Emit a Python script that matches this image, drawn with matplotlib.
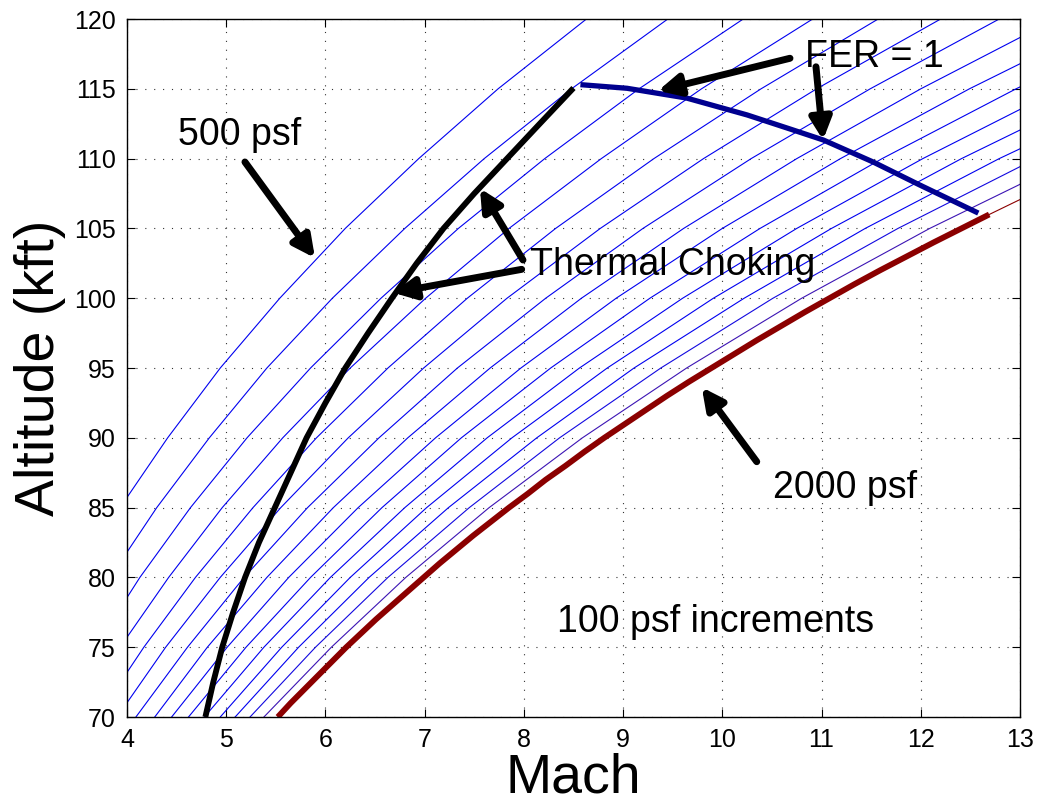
import matplotlib
matplotlib.use("Agg")
import matplotlib.pyplot as plt

plt.rcParams['font.family'] = ['Liberation Sans', 'DejaVu Sans']

# altitude samples (kft) for the constant dynamic pressure lines
alt_kft = [70, 75, 80, 85, 90, 95, 100, 105, 110, 115, 120]

# Mach number at each altitude, one row per dynamic pressure (psf)
q_psf = [500, 600, 700, 800, 900, 1000, 1100, 1200,
         1300, 1400, 1500, 1600, 1700, 1800, 1900]
mach_q = [
    [2.76, 3.11, 3.49, 3.93, 4.41, 4.94, 5.54, 6.20, 6.94, 7.74, 8.63],
    [3.02, 3.40, 3.83, 4.30, 4.83, 5.41, 6.07, 6.80, 7.60, 8.48, 9.45],
    [3.27, 3.68, 4.13, 4.64, 5.21, 5.85, 6.56, 7.34, 8.21, 9.16, 10.21],
    [3.50, 3.93, 4.42, 4.96, 5.57, 6.25, 7.01, 7.85, 8.78, 9.79, 10.91],
    [3.70, 4.17, 4.69, 5.27, 5.91, 6.63, 7.43, 8.32, 9.31, 10.39, 11.57],
    [3.90, 4.39, 4.94, 5.55, 6.23, 6.99, 7.83, 8.77, 9.81, 10.95, 12.20],
    [4.09, 4.61, 5.18, 5.82, 6.54, 7.33, 8.22, 9.20, 10.29, 11.49, 12.79],
    [4.28, 4.81, 5.41, 6.08, 6.83, 7.66, 8.58, 9.61, 10.75, 12.00, 13.36],
    [4.45, 5.01, 5.63, 6.33, 7.11, 7.97, 8.93, 10.00, 11.19, 12.49, 13.91],
    [4.62, 5.20, 5.85, 6.57, 7.37, 8.27, 9.27, 10.38, 11.61, 12.96, 14.43],
    [4.78, 5.38, 6.05, 6.80, 7.63, 8.56, 9.60, 10.75, 12.02, 13.41, 14.94],
    [4.94, 5.56, 6.25, 7.02, 7.88, 8.84, 9.91, 11.10, 12.41, 13.85, 15.43],
    [5.09, 5.73, 6.44, 7.24, 8.13, 9.11, 10.22, 11.44, 12.79, 14.28, 15.90],
    [5.24, 5.90, 6.63, 7.45, 8.36, 9.38, 10.51, 11.77, 13.16, 14.69, 16.37],
    [5.38, 6.06, 6.81, 7.65, 8.59, 9.64, 10.80, 12.09, 13.53, 15.10, 16.81],
]
q_colors = ['#0000f0'] * 13 + ['#1208e0', '#3c14b4']

# 2000 psf line, finer altitude steps (kft)
alt_2000 = [70, 71, 72, 73, 74, 75, 76, 77, 78, 79, 80, 81, 82, 83, 84,
            85, 86, 87, 88, 89, 90, 91, 92, 93, 94, 95, 96, 97, 98, 99,
            100, 101, 102, 103, 104, 105, 106, 107, 110]
mach_2000 = [5.52, 5.65, 5.79, 5.93, 6.07, 6.21, 6.36, 6.51, 6.67, 6.83,
             6.99, 7.15, 7.32, 7.49, 7.67, 7.85, 8.04, 8.22, 8.42, 8.61,
             8.81, 9.02, 9.23, 9.44, 9.66, 9.89, 10.12, 10.35, 10.59, 10.83,
             11.08, 11.33, 11.59, 11.86, 12.13, 12.41, 12.69, 12.98, 13.88]
n_2000_limit = 37  # thick part stops where it meets FER = 1 (106 kft)

# thermal choking boundary
alt_choke = [70, 72.5, 75, 77.5, 80, 82.5, 85, 87.5, 90, 92.5,
             95, 97.5, 100, 102.5, 105, 107.5, 110, 112.5, 115.06]
mach_choke = [4.79, 4.87, 4.96, 5.07, 5.19, 5.33, 5.49, 5.65, 5.81, 6.00,
              6.20, 6.43, 6.67, 6.92, 7.19, 7.50, 7.83, 8.16, 8.50]

# FER = 1 line
mach_fer = [8.57, 9.04, 9.64, 10.25, 10.71, 11.02, 11.52, 11.99, 12.58]
alt_fer = [115.3, 115.04, 114.34, 113.13, 112.06, 111.33, 109.76, 108.11, 106.1]

fig = plt.figure(figsize=(10.39, 8.07), dpi=100)
ax = fig.add_axes([0.1222, 0.1115, 0.8595, 0.8649])

for m, c in zip(mach_q, q_colors):
    ax.plot(m, alt_kft, color=c, lw=0.8)
ax.plot(mach_2000, alt_2000, color='#8b0000', lw=0.8)

ax.plot(mach_2000[:n_2000_limit], alt_2000[:n_2000_limit], color='#8b0000',
        lw=4.2, solid_capstyle='butt')
ax.plot(mach_choke, alt_choke, color='k', lw=4.2, solid_capstyle='butt',
        solid_joinstyle='round')
ax.plot(mach_fer, alt_fer, color='#00008f', lw=3.8, solid_capstyle='butt',
        solid_joinstyle='round')

ax.set_xlim(4, 13)
ax.set_ylim(70, 120)
ax.set_xticks(range(4, 14))
ax.set_yticks(range(70, 121, 5))
ax.grid(True, color='0.2', ls=(0, (1, 7)), lw=0.8)
ax.tick_params(direction='in', top=True, right=True, length=6,
               labelsize=18, pad=8)
for s in ax.spines.values():
    s.set_linewidth(1.0)

ax.set_xlabel('Mach', fontsize=40, labelpad=0)
ax.set_ylabel('Altitude (kft)', fontsize=40, labelpad=6)

arr = dict(arrowstyle='-|>', lw=5, color='k', mutation_scale=32,
           shrinkA=0, shrinkB=0)
fs = 27
ax.text(4.51, 111.7, '500 psf', fontsize=fs, ha='left', va='center')
ax.annotate('', xy=(5.895, 102.88), xytext=(5.189, 109.76), arrowprops=arr)

ax.text(10.83, 117.3, 'FER = 1', fontsize=fs, ha='left', va='center')
ax.annotate('', xy=(9.352, 114.86), xytext=(10.682, 117.19), arrowprops=arr)
ax.annotate('', xy=(11.015, 111.33), xytext=(10.944, 116.58), arrowprops=arr)

ax.text(8.06, 102.4, 'Thermal Choking', fontsize=fs, ha='left', va='center')
ax.annotate('', xy=(7.558, 107.87), xytext=(7.991, 102.74), arrowprops=arr)
ax.annotate('', xy=(6.684, 100.39), xytext=(7.978, 102.07), arrowprops=arr)

ax.text(10.51, 86.4, '2000 psf', fontsize=fs, ha='left', va='center')
ax.annotate('', xy=(9.793, 93.62), xytext=(10.347, 88.29), arrowprops=arr)

ax.text(8.33, 76.8, '100 psf increments', fontsize=fs, ha='left', va='center')

fig.savefig('out.png', dpi=100)
